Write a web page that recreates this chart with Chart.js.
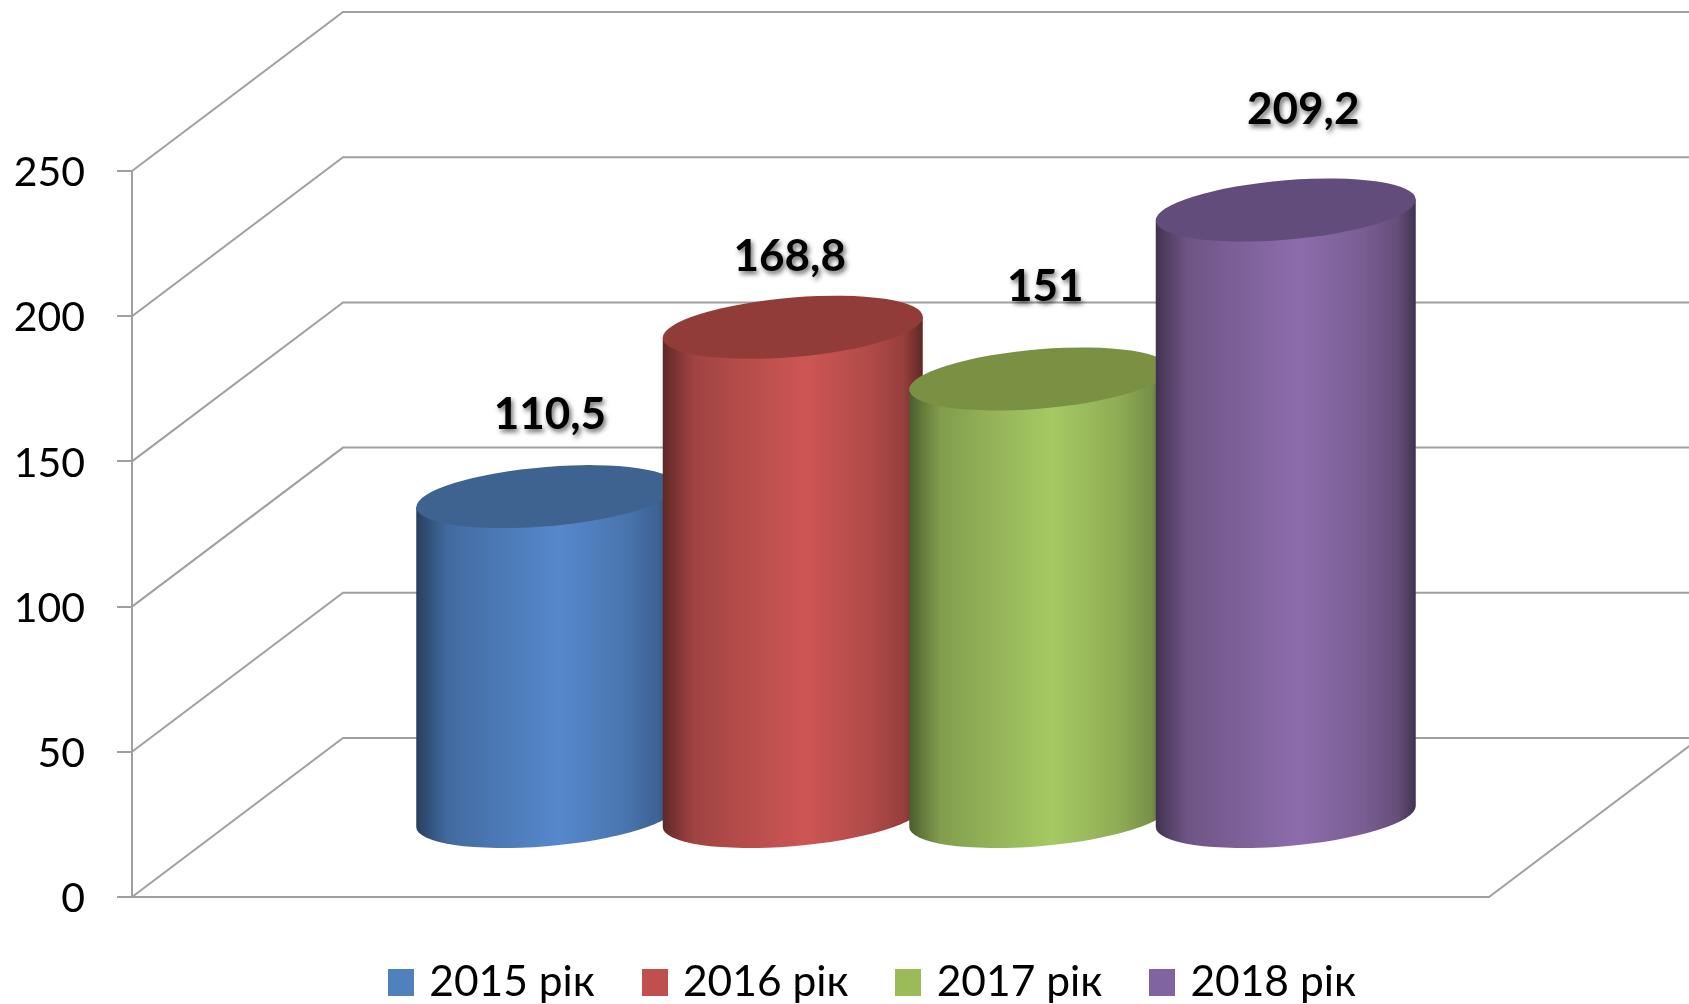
<!DOCTYPE html>
<html>
<head>
<meta charset="utf-8">
<script src="https://cdn.jsdelivr.net/npm/chart.js@4"></script>
<style>html,body{margin:0;padding:0;background:#fff}canvas{display:block}</style>
</head>
<body>
<canvas id="c" width="1689" height="1004"></canvas>
<script>
const categories = [''];
const seriesNames = ['2015 рік', '2016 рік', '2017 рік', '2018 рік'];
const values2015 = [110.5];
const values2016 = [168.8];
const values2017 = [151];
const values2018 = [209.2];
const tickStep = 50;
const axisMax = 250;

const legendColors = ['#4f81bd', '#c0504d', '#9bbb59', '#8064a2'];
const peakColors = [[85,136,204],[205,86,84],[166,201,99],[141,108,171]];
const topColors = ['#3e6391', '#923c3a', '#7a9144', '#624c7b'];
const labelLift = [81.5, 70, 92, 100.5];
const labelShift = [3.6, -3, 6, 17.5];

const FONT = 'Lato, Carlito, "Noto Sans", sans-serif';
const LINE = '#a0a0a0';
const depthX = 211, depthY = 159;
const radiusScale = 130 / 123.25;   // cylinders are wider than their slot and overlap
const ellipseB = 29.7, shear = 0.081;
const shadeStops = [[0,.46],[.05,.6],[.12,.78],[.3,.88],[.55,1],[.8,.86],[.93,.72],[1,.46]];

function swatch(color){
  const c = document.createElement('canvas');
  c.width = 26; c.height = 27;
  const x = c.getContext('2d');
  x.fillStyle = color; x.fillRect(0,0,26,27);
  return c;
}
const shade = (rgb,f)=>`rgb(${rgb.map(v=>Math.round(v*f)).join(',')})`;

const scene = {
  id:'scene',
  afterLayout(chart){
    const l = chart.legend;
    l.left = 341; l.right = 2400; l.top = 908; l.bottom = 1004;
  },
  beforeDatasetsDraw(chart){
    const ctx = chart.ctx, y = chart.scales.y, a = chart.chartArea;
    ctx.save();
    ctx.strokeStyle = LINE; ctx.lineWidth = 2;
    ctx.beginPath();
    y.ticks.forEach(t=>{
      const p = y.getPixelForValue(t.value);
      ctx.moveTo(a.left,p);
      ctx.lineTo(a.left+depthX,p-depthY);
      ctx.lineTo(a.right+depthX,p-depthY);
    });
    const p0 = y.getPixelForValue(0);
    ctx.moveTo(a.right,p0);
    ctx.lineTo(a.right+depthX,p0-depthY);
    ctx.stroke();
    ctx.restore();

    chart.data.datasets.forEach((d,i)=>{
      const bar = chart.getDatasetMeta(i).data[0];
      const cx = bar.x + depthX/2, r = bar.width/2*radiusScale;
      const yt = bar.y - depthY/2, yb = bar.base - depthY/2;
      ctx.save();
      ctx.transform(1,-shear,0,1,cx,0);
      const g = ctx.createLinearGradient(-r,0,r,0);
      shadeStops.forEach(s=>g.addColorStop(s[0],shade(peakColors[i],s[1])));
      ctx.fillStyle = g;
      ctx.beginPath();
      ctx.ellipse(0,yb,r,ellipseB,0,Math.PI,0,true);
      ctx.lineTo(r,yt);
      ctx.lineTo(-r,yt);
      ctx.closePath();
      ctx.fill();
      ctx.fillStyle = topColors[i];
      ctx.beginPath();
      ctx.ellipse(0,yt,r,ellipseB,0,0,Math.PI*2);
      ctx.fill();
      ctx.restore();
    });
  },
  beforeDatasetDraw(){ return false; },
  afterDatasetsDraw(chart){
    const ctx = chart.ctx;
    chart.data.datasets.forEach((d,i)=>{
      const bar = chart.getDatasetMeta(i).data[0];
      const cy = bar.y - depthY/2;
      ctx.save();
      ctx.font = `bold 44px ${FONT}`;
      ctx.fillStyle = '#000';
      ctx.textAlign = 'center'; ctx.textBaseline = 'middle';
      ctx.shadowColor = 'rgba(0,0,0,.6)';
      ctx.shadowBlur = 5; ctx.shadowOffsetX = 2; ctx.shadowOffsetY = 3;
      ctx.fillText(String(d.data[0]).replace('.',','), bar.x+depthX/2+labelShift[i], cy-labelLift[i]);
      ctx.restore();
    });
  }
};

new Chart(document.getElementById('c'),{
  type:'bar',
  data:{
    labels:categories,
    datasets:[
      {label:seriesNames[0],data:values2015,backgroundColor:legendColors[0]},
      {label:seriesNames[1],data:values2016,backgroundColor:legendColors[1]},
      {label:seriesNames[2],data:values2017,backgroundColor:legendColors[2]},
      {label:seriesNames[3],data:values2018,backgroundColor:legendColors[3]}
    ]
  },
  plugins:[scene],
  options:{
    responsive:false,
    animation:false,
    layout:{padding:{top:171,right:200,bottom:106,left:0}},
    datasets:{bar:{categoryPercentage:986/1357,barPercentage:1}},
    scales:{
      x:{
        grid:{display:false},
        ticks:{display:false},
        border:{display:true,color:LINE,width:2},
        afterFit(s){s.height=0;}
      },
      y:{
        min:0,max:axisMax,
        ticks:{stepSize:tickStep,color:'#000',padding:32,labelOffset:2,font:{family:FONT,size:41}},
        grid:{drawOnChartArea:false,drawTicks:true,tickLength:15,color:LINE,lineWidth:2},
        border:{display:true,color:LINE,width:2},
        afterFit(s){s.width=132;}
      }
    },
    plugins:{
      title:{display:false},
      tooltip:{enabled:false},
      legend:{
        position:'bottom',
        align:'start',
        maxHeight:1,
        labels:{
          color:'#000',
          font:{family:FONT,size:42.5},
          padding:53,
          usePointStyle:true,
          pointStyleWidth:14,
          boxHeight:27,
          generateLabels(chart){
            return chart.data.datasets.map((d,i)=>({
              text:d.label,fillStyle:d.backgroundColor,strokeStyle:d.backgroundColor,
              lineWidth:0,pointStyle:swatch(d.backgroundColor),datasetIndex:i,hidden:false
            }));
          }
        }
      }
    }
  }
});
</script>
</body>
</html>
